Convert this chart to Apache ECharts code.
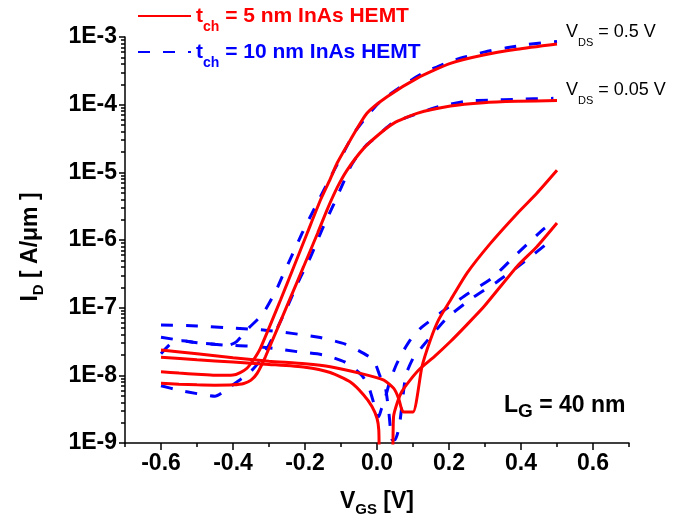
<!DOCTYPE html>
<html><head><meta charset="utf-8">
<script src="https://cdn.jsdelivr.net/npm/echarts@6/dist/echarts.min.js"></script>
<style>html,body{margin:0;padding:0;background:#fff}#c{width:692px;height:524px}</style>
</head><body><div id="c"></div>
<script>
// ---- axis ticks ----
const xTickLabels = [-0.6, -0.4, -0.2, 0, 0.2, 0.4, 0.6];
const xMinorTicks = [-0.7, -0.5, -0.3, -0.1, 0.1, 0.3, 0.5, 0.7];
const yDecades = [-9, -8, -7, -6, -5, -4, -3];
const yMinorMultipliers = [2, 3, 4, 5, 6, 7, 8, 9];

// ---- t_ch = 5 nm, drain current, V_DS = 0.5 V ----
const vgs_5nm_d05 = [-0.6,-0.55,-0.5,-0.45,-0.4,-0.38,-0.362,-0.343,-0.324,-0.268,-0.231,-0.194,-0.157,-0.13,-0.111,-0.074,-0.028,0.028,0.111,0.204,0.296,0.389,0.5];
const id_5nm_d05 = [1.13e-8,1.08e-8,1.04e-8,1.0e-8,1.01e-8,1.10e-8,1.26e-8,1.70e-8,2.51e-8,1.30e-7,4.03e-7,1.26e-6,3.90e-6,7.94e-6,1.36e-5,3.01e-5,7.45e-5,1.31e-4,2.45e-4,4.08e-4,5.42e-4,6.58e-4,7.87e-4];
// ---- t_ch = 5 nm, drain current, V_DS = 0.05 V ----
const vgs_5nm_d005 = [-0.6,-0.55,-0.5,-0.45,-0.4,-0.37,-0.35,-0.333,-0.31,-0.243,-0.204,-0.165,-0.139,-0.11,-0.083,-0.037,0.009,0.046,0.111,0.204,0.296,0.389,0.5];
const id_5nm_d005 = [7.62e-9,7.41e-9,7.24e-9,7.16e-9,7.24e-9,7.59e-9,8.51e-9,1.07e-8,1.88e-8,1.30e-7,4.03e-7,1.26e-6,2.77e-6,6.03e-6,1.08e-5,2.26e-5,3.78e-5,5.30e-5,7.45e-5,9.55e-5,1.07e-4,1.12e-4,1.15e-4];
// ---- t_ch = 5 nm, leakage curve A ----
const vgs_5nm_gA = [-0.6,-0.5,-0.4,-0.3,-0.2,-0.13,-0.046,0.019,0.046,0.06,0.069,0.074,0.1,0.125,0.148,0.171,0.204,0.25,0.315,0.389,0.444,0.5];
const id_5nm_gA = [2.37e-8,2.09e-8,1.82e-8,1.62e-8,1.48e-8,1.34e-8,1.07e-8,8.51e-9,6.46e-9,4.57e-9,3.09e-9,2.88e-9,2.88e-9,1.35e-8,3.31e-8,6.61e-8,1.29e-7,3.24e-7,8.91e-7,2.45e-6,4.90e-6,1.07e-5];
// ---- t_ch = 5 nm, leakage curve B ----
const vgs_5nm_gB = [-0.6,-0.5,-0.4,-0.3,-0.2,-0.13,-0.074,-0.037,-0.014,0.0,0.005,0.0085,0.04,0.046,0.056,0.069,0.092,0.12,0.16,0.204,0.25,0.296,0.389,0.444,0.5];
const id_5nm_gB = [1.85e-8,1.70e-8,1.57e-8,1.45e-8,1.32e-8,1.10e-8,7.94e-9,5.13e-9,3.47e-9,2.32e-9,1.55e-9,5.0e-10,5.0e-10,2.45e-9,3.89e-9,5.75e-9,8.51e-9,1.26e-8,1.91e-8,3.16e-8,5.62e-8,1.02e-7,4.07e-7,7.94e-7,1.78e-6];

// ---- t_ch = 10 nm, drain current, V_DS = 0.5 V ----
const vgs_10nm_d05 = [-0.6,-0.57,-0.54,-0.5,-0.45,-0.41,-0.39,-0.36,-0.32,-0.3,-0.278,-0.264,-0.245,-0.208,-0.18,-0.162,-0.12,-0.09,-0.065,-0.037,0.0,0.03,0.065,0.1,0.139,0.167,0.204,0.241,0.3,0.36,0.42,0.5];
const id_10nm_d05 = [2.09e-8,3.02e-8,3.24e-8,3.03e-8,2.88e-8,2.82e-8,3.16e-8,4.79e-8,7.76e-8,1.15e-7,1.91e-7,2.82e-7,4.68e-7,1.26e-6,2.51e-6,3.89e-6,1.05e-5,2.09e-5,3.72e-5,5.89e-5,1.0e-4,1.35e-4,1.82e-4,2.40e-4,3.16e-4,3.63e-4,4.37e-4,5.01e-4,6.03e-4,6.92e-4,7.76e-4,8.61e-4];
// ---- t_ch = 10 nm, drain current, V_DS = 0.05 V ----
const vgs_10nm_d005 = [-0.6,-0.55,-0.5,-0.45,-0.42,-0.39,-0.36,-0.33,-0.3,-0.275,-0.25,-0.217,-0.183,-0.152,-0.12,-0.095,-0.074,-0.056,-0.03,0.0,0.019,0.042,0.092,0.12,0.17,0.245,0.315,0.385,0.49];
const id_10nm_d005 = [7.0e-9,6.03e-9,5.37e-9,4.90e-9,6.03e-9,7.94e-9,1.02e-8,1.51e-8,2.82e-8,5.25e-8,1.0e-7,2.51e-7,5.89e-7,1.45e-6,3.39e-6,6.76e-6,1.20e-5,1.70e-5,2.51e-5,3.39e-5,4.22e-5,5.28e-5,6.76e-5,7.59e-5,9.33e-5,1.12e-4,1.17e-4,1.20e-4,1.24e-4];
// ---- t_ch = 10 nm, leakage curve A ----
const vgs_10nm_gA = [-0.6,-0.5,-0.4,-0.315,-0.236,-0.162,-0.088,-0.037,-0.009,0.009,0.023,0.033,0.042,0.05,0.062,0.08,0.1,0.111,0.125,0.195,0.264,0.333,0.407,0.48];
const id_10nm_gA = [5.55e-8,5.37e-8,5.01e-8,4.68e-8,4.17e-8,3.65e-8,2.90e-8,2.11e-8,1.66e-8,9.55e-9,6.76e-9,2.82e-9,1.12e-9,1.12e-9,1.78e-9,1.0e-8,1.78e-8,2.11e-8,2.63e-8,7.08e-8,1.38e-7,2.40e-7,4.68e-7,9.55e-7];
// ---- t_ch = 10 nm, leakage curve B ----
const vgs_10nm_gB = [-0.6,-0.5,-0.426,-0.357,-0.287,-0.222,-0.148,-0.09,-0.042,-0.023,-0.009,0.0,0.005,0.012,0.019,0.035,0.053,0.07,0.092,0.12,0.176,0.242,0.32,0.386,0.46,0.48];
const id_10nm_gB = [3.65e-8,3.03e-8,2.81e-8,2.71e-8,2.51e-8,2.24e-8,2.0e-8,1.58e-8,1.0e-8,6.76e-9,3.89e-9,2.75e-9,2.45e-9,3.16e-9,3.89e-9,7.94e-9,1.41e-8,2.14e-8,3.31e-8,4.90e-8,8.32e-8,1.48e-7,2.75e-7,6.03e-7,1.41e-6,1.70e-6];

const FONT = '"Liberation Sans", Arial, sans-serif';
const RED = '#ff0000', BLUE = '#0000ff';

const yMinorLog = [];
yDecades.slice(0, -1).forEach(d => yMinorMultipliers.forEach(k => yMinorLog.push(d + Math.log10(k))));

function mk(name, xs, ys, color, dashed) {
  return {
    type: 'line', name: name, data: xs.map((x, i) => [x, ys[i]]),
    symbol: 'none', smooth: 0.2, clip: true, silent: true,
    lineStyle: { color: color, width: 3, type: dashed ? [12, 13] : 'solid', cap: 'butt' },
    itemStyle: { color: color }, emphasis: { disabled: true }, z: dashed ? 2 : 3
  };
}

const chart = echarts.init(document.getElementById('c'), null, { renderer: 'canvas' });
const legendRich = (c) => ({
  a: { fontSize: 21, fontWeight: 'bold', color: c, fontFamily: FONT, lineHeight: 21 },
  b: { fontSize: 14, fontWeight: 'bold', color: c, fontFamily: FONT, lineHeight: 14, padding: [22, 0, 0, 0] }
});
const annRich = {
  v: { fontSize: 18, fill: '#000', fontFamily: FONT, lineHeight: 18 },
  s: { fontSize: 11, fill: '#000', fontFamily: FONT, lineHeight: 11, padding: [22, 0, 0, 0] }
};
const lgRich = {
  l: { fontSize: 23, fontWeight: 'bold', fill: '#000', fontFamily: FONT, lineHeight: 23 },
  g: { fontSize: 19, fontWeight: 'bold', fill: '#000', fontFamily: FONT, lineHeight: 19, padding: [12, 0, 0, 0] }
};
const nameRich = {
  a: { fontSize: 23, fontWeight: 'bold', color: '#000', fontFamily: FONT, lineHeight: 23 },
  b: { fontSize: 15, fontWeight: 'bold', color: '#000', fontFamily: FONT, lineHeight: 15, padding: [16, 0, 0, 0] }
};
const axisLineStyle = { color: '#000', width: 1.5 };

chart.setOption({
  animation: false,
  backgroundColor: '#fff',
  textStyle: { fontFamily: FONT },
  grid: { left: 125, right: 63, top: 37, bottom: 81, outerBoundsMode: 'none', containLabel: false },
  legend: [
    { data: ['t5'], left: 137, top: -2, padding: 0, itemWidth: 53, itemHeight: 14, selectedMode: false,
      itemStyle: { opacity: 0 },
      formatter: () => '{a|t}{b|ch}{a| = 5 nm InAs HEMT}', textStyle: { rich: legendRich(RED) } },
    { data: ['t10'], left: 137, top: 34, padding: 0, itemWidth: 53, itemHeight: 14, selectedMode: false,
      itemStyle: { opacity: 0 },
      formatter: () => '{a|t}{b|ch}{a| = 10 nm InAs HEMT}', textStyle: { rich: legendRich(BLUE) } }
  ],
  xAxis: [
    { type: 'value', min: -0.7, max: 0.7, position: 'bottom',
      name: '{a|V}{b|GS}{a| [V]}', nameLocation: 'middle', nameGap: 47,
      nameTextStyle: { rich: nameRich },
      axisLine: { show: true, onZero: false, lineStyle: axisLineStyle },
      axisTick: { show: true, customValues: xTickLabels, length: 7, lineStyle: axisLineStyle },
      axisLabel: { customValues: xTickLabels, formatter: v => v.toFixed(1), fontSize: 23, fontWeight: 'bold', color: '#000', margin: 9, fontFamily: FONT },
      splitLine: { show: false } },
    { type: 'value', min: -0.7, max: 0.7, position: 'bottom',
      axisLine: { show: false, onZero: false }, axisLabel: { show: false }, splitLine: { show: false },
      axisTick: { show: true, customValues: xMinorTicks, length: 4, lineStyle: axisLineStyle } }
  ],
  yAxis: [
    { type: 'log', logBase: 10, min: 1e-9, max: 1e-3, position: 'left',
      name: '{a|I}{b|D}{a| [ A/μm ]}', nameLocation: 'middle', nameGap: 83, nameRotate: 90,
      nameTextStyle: { rich: nameRich, padding: [0, 14, 0, 0] },
      axisLine: { show: true, onZero: false, lineStyle: axisLineStyle },
      axisTick: { show: true, length: 6, lineStyle: axisLineStyle },
      axisLabel: { formatter: v => '1E' + Math.round(Math.log10(v)), fontSize: 23, fontWeight: 'bold', color: '#000', margin: 8, fontFamily: FONT },
      splitLine: { show: false }, minorTick: { show: false } },
    { type: 'value', min: -9, max: -3, position: 'left',
      axisLine: { show: false, onZero: false }, axisLabel: { show: false }, splitLine: { show: false },
      axisTick: { show: true, customValues: yMinorLog, length: 4, lineStyle: axisLineStyle } }
  ],
  graphic: [
    { type: 'text', x: 566, y: 23, silent: true, style: { text: '{v|V}{s|DS}{v| = 0.5 V}', rich: annRich } },
    { type: 'text', x: 566, y: 81, silent: true, style: { text: '{v|V}{s|DS}{v| = 0.05 V}', rich: annRich } },
    { type: 'text', x: 504, y: 394, silent: true, style: { text: '{l|L}{g|G}{l| = 40 nm}', rich: lgRich } }
  ],
  series: [
    mk('t10', vgs_10nm_d05, id_10nm_d05, BLUE, true),
    mk('t10', vgs_10nm_d005, id_10nm_d005, BLUE, true),
    mk('t10', vgs_10nm_gA, id_10nm_gA, BLUE, true),
    mk('t10', vgs_10nm_gB, id_10nm_gB, BLUE, true),
    mk('t5', vgs_5nm_d05, id_5nm_d05, RED, false),
    mk('t5', vgs_5nm_d005, id_5nm_d005, RED, false),
    mk('t5', vgs_5nm_gA, id_5nm_gA, RED, false),
    mk('t5', vgs_5nm_gB, id_5nm_gB, RED, false)
  ]
});
</script>
</body></html>
